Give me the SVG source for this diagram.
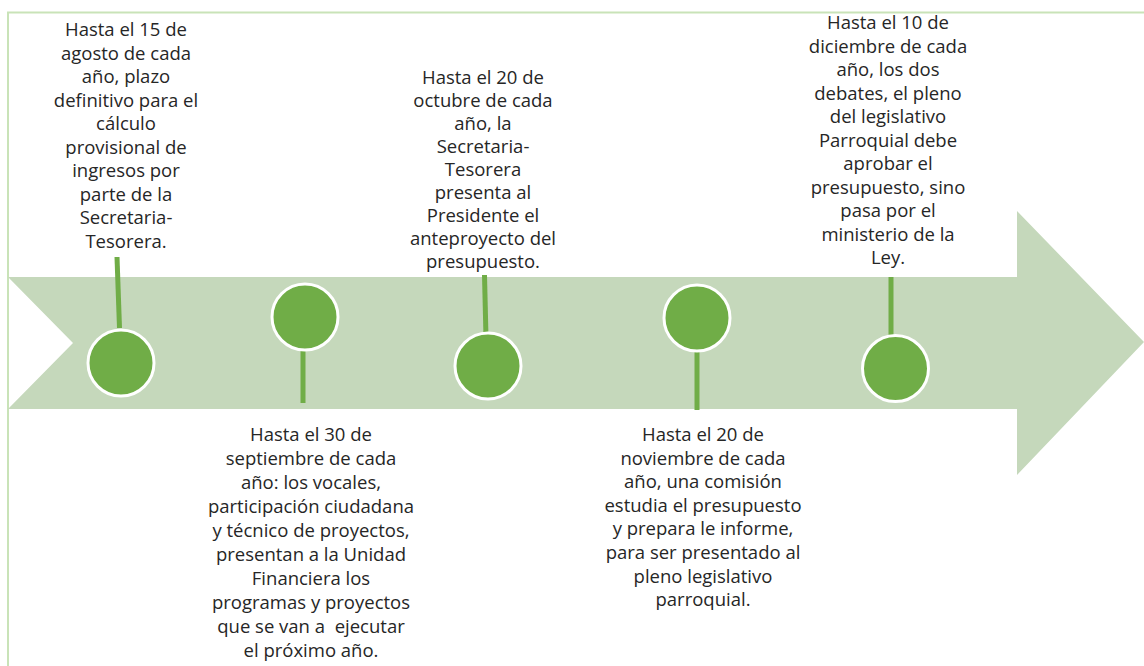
<svg xmlns="http://www.w3.org/2000/svg" width="1144" height="666" viewBox="0 0 1144 666">
<style>
.t{font-family:"Open Sans","Liberation Sans",sans-serif;font-size:18.5px;fill:#262626;text-anchor:middle}
.stem{stroke:#70AD47;stroke-width:5;fill:none}
.dot{fill:#70AD47;stroke:#FFFFFF;stroke-width:3}
</style>
<rect width="1144" height="666" fill="#FFFFFF"/>
<g id="frame">
<path d="M8,666 V12.5 H1144" fill="none" stroke="#C9E3B8" stroke-width="2"/>
</g>
<g id="arrow">
<polygon points="8,277 1017,277 1017,211 1144,342 1017,475 1017,409 8,409 73,343" fill="#C5D8BB"/>
</g>
<g id="connectors">
<line class="stem" x1="117" y1="257" x2="119.5" y2="328"/>
<line class="stem" x1="303" y1="345" x2="303" y2="403"/>
<line class="stem" x1="484.5" y1="275" x2="486" y2="338"/>
<line class="stem" x1="697" y1="348" x2="697" y2="410"/>
<line class="stem" x1="891" y1="277" x2="891" y2="340"/>
</g>
<g id="node1">
<circle class="dot" cx="121" cy="363" r="33"/>
<text class="t"><tspan x="126" y="36">Hasta el 15 de</tspan><tspan x="126" y="59.5">agosto de cada</tspan><tspan x="126" y="83">año, plazo</tspan><tspan x="126" y="106.5">definitivo para el</tspan><tspan x="126" y="130">cálculo</tspan><tspan x="126" y="153.5">provisional de</tspan><tspan x="126" y="177">ingresos por</tspan><tspan x="126" y="200.5">parte de la</tspan><tspan x="126" y="224">Secretaria-</tspan><tspan x="126" y="247.5">Tesorera.</tspan></text>
</g>
<g id="node2">
<circle class="dot" cx="305" cy="317" r="33"/>
<text class="t"><tspan x="311" y="441">Hasta el 30 de</tspan><tspan x="311" y="465">septiembre de cada</tspan><tspan x="311" y="489">año: los vocales,</tspan><tspan x="311" y="513">participación ciudadana</tspan><tspan x="311" y="537">y técnico de proyectos,</tspan><tspan x="311" y="561">presentan a la Unidad</tspan><tspan x="311" y="585">Financiera los</tspan><tspan x="311" y="609">programas y proyectos</tspan><tspan x="311" y="633">que se van a&#160; ejecutar</tspan><tspan x="311" y="657">el próximo año.</tspan></text>
</g>
<g id="node3">
<circle class="dot" cx="488" cy="366" r="33"/>
<text class="t"><tspan x="483" y="84">Hasta el 20 de</tspan><tspan x="483" y="107">octubre de cada</tspan><tspan x="483" y="130">año, la</tspan><tspan x="483" y="153">Secretaria-</tspan><tspan x="483" y="176">Tesorera</tspan><tspan x="483" y="199">presenta al</tspan><tspan x="483" y="222">Presidente el</tspan><tspan x="483" y="245">anteproyecto del</tspan><tspan x="483" y="268">presupuesto.</tspan></text>
</g>
<g id="node4">
<circle class="dot" cx="697" cy="318" r="33"/>
<text class="t"><tspan x="703" y="441">Hasta el 20 de</tspan><tspan x="703" y="464.6">noviembre de cada</tspan><tspan x="703" y="488.2">año, una comisión</tspan><tspan x="703" y="511.8">estudia el presupuesto</tspan><tspan x="703" y="535.4">y prepara le informe,</tspan><tspan x="703" y="559">para ser presentado al</tspan><tspan x="703" y="582.6">pleno legislativo</tspan><tspan x="703" y="606.2">parroquial.</tspan></text>
</g>
<g id="node5">
<circle class="dot" cx="895.5" cy="368.5" r="33"/>
<text class="t"><tspan x="888" y="29">Hasta el 10 de</tspan><tspan x="888" y="52.5">diciembre de cada</tspan><tspan x="888" y="76">año, los dos</tspan><tspan x="888" y="99.5">debates, el pleno</tspan><tspan x="888" y="123">del legislativo</tspan><tspan x="888" y="146.5">Parroquial debe</tspan><tspan x="888" y="170">aprobar el</tspan><tspan x="888" y="193.5">presupuesto, sino</tspan><tspan x="888" y="217">pasa por el</tspan><tspan x="888" y="240.5">ministerio de la</tspan><tspan x="888" y="264">Ley.</tspan></text>
</g>
</svg>
